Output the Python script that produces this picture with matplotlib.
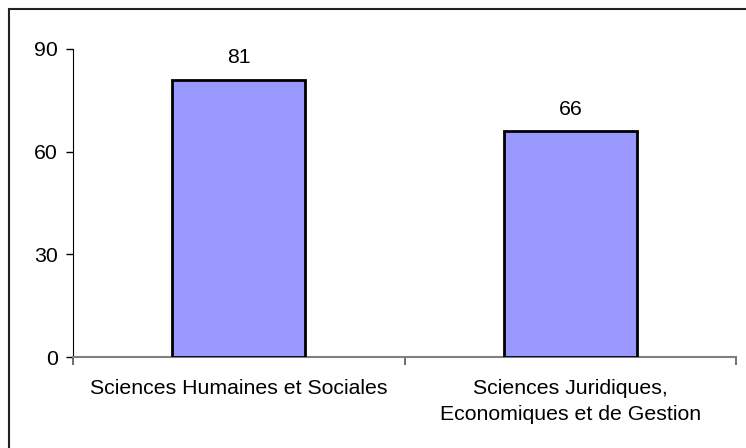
import matplotlib
matplotlib.use("Agg")
import matplotlib.pyplot as plt
from matplotlib.patches import Rectangle

categories = ["Sciences Humaines et Sociales",
              "Sciences Juridiques,\nEconomiques et de Gestion"]
values = [81, 66]
yticks = [0, 30, 60, 90]

plt.rcParams['font.family'] = ['Liberation Sans', 'DejaVu Sans']

W, H = 746, 448
fig = plt.figure(figsize=(W / 100, H / 100), dpi=100)

# frame around the chart area (open to the right and bottom)
fig.patches.append(Rectangle((9 / W, -0.1), 1.2, (H - 9) / H + 0.1,
                             transform=fig.transFigure, fill=False,
                             edgecolor="#222222", linewidth=1.5))

ax = fig.add_axes([73 / W, (H - 357) / H, (736 - 73) / W, (357 - 49) / H])
x = list(range(len(categories)))
bars = ax.bar(x, values, width=0.40, color="#9999FF",
              edgecolor="black", linewidth=2, zorder=3)
for b, v in zip(bars, values):
    ax.annotate(str(v), (b.get_x() + b.get_width() / 2, v),
                xytext=(0, 9), textcoords="offset points",
                ha="center", va="bottom", fontsize=15.3)

ax.set_xlim(-0.5, len(categories) - 0.5)
ax.set_ylim(0, 90)
ax.set_yticks(yticks)
ax.tick_params(axis="y", direction="out", length=5, width=1,
               labelsize=15.3, pad=6, colors="black")

# category labels centred, tick marks on category boundaries
ax.set_xticks(x)
ax.set_xticklabels(categories, fontsize=15.3, linespacing=1.45)
ax.tick_params(axis="x", length=0, pad=16)
ax.set_xticks([-0.5, 0.5, 1.5], minor=True)
ax.tick_params(axis="x", which="minor", direction="out", length=6,
               width=1.2, color="#555555")

for s in ["top", "right"]:
    ax.spines[s].set_visible(False)
ax.spines["left"].set_color("black")
ax.spines["bottom"].set_color("#808080")
ax.spines["bottom"].set_linewidth(1.5)

fig.savefig("out.png", dpi=100)
